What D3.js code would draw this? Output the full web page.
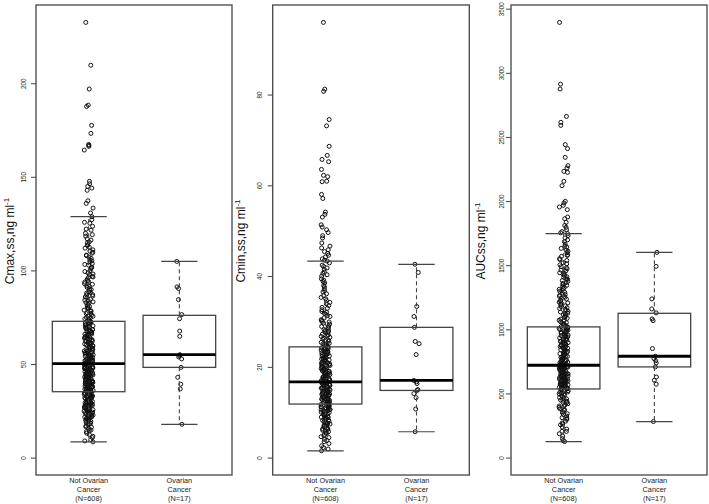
<!DOCTYPE html>
<html>
<head>
<meta charset="utf-8">
<script src="https://cdn.jsdelivr.net/npm/d3@7"></script>
<style>
  body { margin: 0; background: #fff; }
  svg { display: block; font-family: "Liberation Sans", Arial, sans-serif; }
</style>
</head>
<body>
<svg width="709" height="504"></svg>
<script>
// group labels under each panel
const groupLabels = [["Not Ovarian", "Cancer", "(N=608)"], ["Ovarian", "Cancer", "(N=17)"]];

// tick values per panel
const cmaxTicks = [0, 50, 100, 150, 200];
const cminTicks = [0, 20, 40, 60, 80];
const aucTicks = [0, 500, 1000, 1500, 2000, 2500, 3000, 3500];

// box stats: [lower whisker, Q1, median, Q3, upper whisker]
const cmaxBox = [[8.4, 35.2, 50.2, 72.8, 128.7], [17.8, 48.2, 55.0, 76.0, 104.8]];
const cminBox = [[1.5, 11.8, 16.7, 24.4, 43.3], [5.7, 14.8, 17.0, 28.7, 42.6]];
const aucBox = [[125, 535, 720, 1019, 1746], [281, 707, 790, 1125, 1600]];

// individual points
const cmaxNot = [232.5, 209.6, 196.9, 188.3, 187.6, 177.5, 173.2, 167.3, 166.8, 166.3, 164.3, 147.6, 146.3, 144.9, 144.0, 142.8, 137.2, 135.8, 133.3, 130.7,
  128.7, 127.1, 125.7, 125.2, 123.6, 122.1, 121.5, 119.8, 119.1, 118.3, 116.9, 115.2, 114.8, 113.6, 112.4, 111.9, 110.3, 109.7, 108.2, 107.9, 106.4, 105.1, 104.6, 103.2, 102.8, 101.3, 100.9, 99.4, 98.7, 98.1, 96.8, 96.2, 95.3, 94.1, 93.8, 92.6, 91.7, 90.9, 90.2, 89.4, 88.6, 87.9, 87.1, 86.3, 85.8, 84.6, 84.1, 83.2, 82.5, 81.9, 80.7, 80.2, 79.6, 78.8, 78.1, 77.4, 76.9, 76.1, 75.5, 74.8, 74.2, 73.6, 73.1,
  72.8, 72.3, 71.6, 71.4, 70.7, 70.2, 69.9, 69.1, 68.8, 68.3, 67.7, 67.5, 66.8, 66.2, 66.0, 65.4, 64.9, 64.5, 63.8, 63.6, 63.0, 62.5, 62.2, 61.6, 61.3, 60.7, 60.4, 59.9, 59.4, 59.1, 58.6, 58.1, 57.8, 57.3, 57.0, 56.4, 56.1, 55.7, 55.2, 54.9, 54.5, 54.0, 53.8, 53.2, 52.9, 52.5, 52.1, 51.8, 51.3, 51.1, 50.6, 50.3,
  50.1, 49.8, 49.5, 49.3, 48.9, 48.6, 48.4, 48.0, 47.8, 47.5, 47.1, 46.9, 46.6, 46.2, 46.0, 45.6, 45.4, 45.1, 44.8, 44.5, 44.2, 43.9, 43.7, 43.3, 43.0, 42.8, 42.4, 42.1, 41.9, 41.5, 41.2, 41.0, 40.6, 40.4, 40.1, 39.7, 39.5, 39.2, 38.8, 38.6, 38.3, 37.9, 37.7, 37.4, 37.0, 36.8, 36.5, 36.1, 35.9, 35.6, 35.3,
  35.0, 34.7, 34.4, 34.2, 33.8, 33.5, 33.3, 32.9, 32.6, 32.3, 31.9, 31.7, 31.3, 31.0, 30.6, 30.4, 30.0, 29.6, 29.3, 29.0, 28.6, 28.2, 27.9, 27.5, 27.2, 26.8, 26.5, 26.1, 25.8, 25.4, 25.0, 24.6, 24.3, 23.9, 23.5, 23.0, 22.7, 22.2, 21.8, 21.3, 20.9, 20.4, 19.9, 19.3, 18.8, 18.1, 17.6, 16.9, 16.2, 15.4, 14.7, 13.9, 13.1, 12.2, 11.4, 10.7, 9.6, 8.9, 8.4,
  14.3, 16.5, 18.4, 19.6, 20.1, 21.0, 21.6, 22.4, 23.2, 23.7, 24.1, 24.8, 25.2, 25.6, 26.3, 26.9, 27.4, 27.7, 28.0, 28.4, 28.9, 29.4, 29.8, 30.2, 30.8, 31.1, 31.5, 32.0, 32.4, 32.8, 33.1, 33.6, 34.0, 34.5, 34.9, 35.4, 35.8, 36.3, 36.6, 37.2, 37.5, 38.0, 38.5, 38.9, 39.4, 39.9, 40.3, 40.8, 41.3, 41.7,
  42.2, 42.6, 43.1, 43.5, 44.0, 44.4, 44.9, 45.3, 45.8, 46.4, 46.7, 47.3, 47.6, 48.2, 48.7, 49.1, 49.6, 50.0, 50.5, 51.0, 51.5, 52.0, 52.6, 53.0, 53.5, 54.2, 54.7, 55.4, 55.9, 56.6, 57.1, 57.7, 58.4, 58.9, 59.6, 60.2, 60.9, 61.5, 62.0, 62.8, 63.3, 64.1, 64.7, 65.2, 65.9, 66.5, 67.2, 67.8, 68.5, 69.3,
  69.7, 70.4, 71.0, 71.8, 72.5, 73.4, 74.5, 75.8, 77.1, 78.4, 79.9, 81.1, 82.8, 84.0, 85.5, 86.9, 88.2, 89.8, 91.4, 92.9, 94.6, 96.5, 97.7, 99.9, 101.8, 103.7, 105.6, 107.1, 109.2, 111.0, 113.4, 116.2];
const cmaxOv = [104.8, 91.2, 90.3, 84.4, 76.4, 74.2, 67.6, 64.8, 55.0, 54.4, 53.8, 52.7, 48.2, 42.9, 39.2, 36.7, 17.8];

const cminNot = [95.9, 81.2, 80.7, 74.5, 73.1, 68.6, 66.6, 65.7, 65.2, 63.5, 62.2, 61.9, 60.9, 60.8, 58.0, 57.1, 54.1, 53.6, 53.0, 51.3, 50.8, 50.2, 49.6, 48.9, 48.4, 47.3, 46.6, 46.2, 45.8, 45.4, 45.0, 44.6, 44.2, 43.8, 43.5,
  43.3, 42.9, 42.4, 41.8, 41.5, 40.9, 40.3, 40.0, 39.4, 38.8, 38.5, 37.9, 37.2, 36.8, 36.1, 35.7, 35.0, 34.6, 33.9, 33.5, 32.9, 32.6, 32.0, 31.6, 31.1, 30.8, 30.2, 29.9, 29.4, 29.0, 28.7, 28.2, 27.9, 27.5, 27.0, 26.7, 26.3, 25.9, 25.6, 25.2, 24.9, 24.6,
  24.3, 24.1, 23.9, 23.7, 23.4, 23.3, 23.0, 22.8, 22.6, 22.4, 22.1, 22.0, 21.7, 21.5, 21.4, 21.1, 20.9, 20.8, 20.5, 20.3, 20.2, 19.9, 19.7, 19.6, 19.3, 19.1, 19.0, 18.7, 18.5, 18.4, 18.1, 17.9, 17.8, 17.5, 17.3, 17.2, 16.9, 16.8,
  16.6, 16.5, 16.3, 16.1, 16.0, 15.8, 15.6, 15.5, 15.3, 15.1, 15.0, 14.8, 14.6, 14.5, 14.3, 14.1, 14.0, 13.8, 13.6, 13.5, 13.3, 13.1, 13.0, 12.8, 12.6, 12.5, 12.3, 12.1, 12.0, 11.8,
  11.6, 11.4, 11.2, 11.0, 10.8, 10.6, 10.4, 10.2, 10.0, 9.8, 9.6, 9.4, 9.1, 8.9, 8.7, 8.4, 8.2, 7.9, 7.7, 7.4, 7.1, 6.9, 6.6, 6.3, 6.0, 5.7, 5.4, 5.1, 4.8, 4.4, 4.0, 3.5, 3.1, 2.6, 2.2, 1.9, 1.5,
  3.8, 4.6, 5.3, 5.9, 6.4, 6.8, 7.2, 7.6, 8.0, 8.3, 8.6, 8.9, 9.2, 9.5, 9.7, 9.9, 10.1, 10.3, 10.5, 10.7, 10.9, 11.1, 11.3, 11.5, 11.7, 11.9, 12.2, 12.4, 12.7, 12.9, 13.2, 13.4, 13.7, 13.9, 14.2, 14.4, 14.7, 14.9, 15.2, 15.4,
  15.7, 15.9, 16.2, 16.4, 16.7, 17.0, 17.4, 17.6, 18.0, 18.3, 18.6, 18.9, 19.2, 19.5, 19.8, 20.1, 20.4, 20.7, 21.0, 21.3, 21.6, 21.9, 22.3, 22.7, 23.1, 23.5, 23.8, 24.2, 24.5, 24.8, 25.4, 25.8, 26.1, 26.5, 27.2, 27.7, 28.4, 28.9, 29.6, 30.4,
  31.3, 32.2, 33.1, 34.2, 35.3, 36.5, 37.6, 39.1, 40.6, 42.1, 6.2, 7.5, 8.8, 9.3, 10.6, 11.2, 12.0, 12.6, 13.3, 14.1, 14.6, 15.3, 16.0, 16.5, 17.7, 18.8, 19.4, 20.6, 21.8, 22.9, 24.0, 25.1, 26.9, 28.0, 30.0, 31.8];
const cminOv = [42.6, 40.8, 33.3, 31.1, 28.7, 25.6, 25.1, 22.7, 17.0, 16.7, 16.3, 15.0, 14.8, 14.1, 13.2, 10.7, 5.7];

const aucNot = [3393, 2912, 2874, 2660, 2614, 2590, 2440, 2409, 2341, 2276, 2258, 2232, 2224, 2154, 2120, 1998, 1985, 1967, 1954, 1933, 1876, 1862, 1834, 1810, 1795, 1777, 1762, 1752,
  1746, 1731, 1712, 1698, 1684, 1663, 1648, 1631, 1617, 1598, 1582, 1569, 1551, 1537, 1519, 1503, 1488, 1472, 1456, 1441, 1427, 1410, 1394, 1381, 1363, 1348, 1334, 1317, 1302, 1288, 1271, 1257, 1243, 1226, 1212, 1198, 1183, 1169, 1154, 1140, 1126, 1113, 1098, 1086, 1071, 1059, 1046, 1032, 1021,
  1012, 1003, 994, 986, 977, 969, 958, 951, 942, 933, 925, 916, 908, 899, 891, 882, 874, 865, 857, 848, 840, 831, 823, 815, 806, 798, 789, 781, 772, 764, 756, 748, 740, 733, 726, 721,
  718, 713, 708, 702, 697, 692, 686, 681, 676, 670, 665, 660, 654, 649, 644, 638, 633, 628, 622, 617, 612, 606, 601, 596, 590, 585, 580, 574, 569, 564, 558, 553, 548, 543, 539, 535,
  530, 521, 512, 503, 494, 485, 476, 467, 458, 448, 439, 430, 420, 411, 401, 391, 381, 370, 359, 348, 336, 324, 311, 298, 284, 270, 255, 239, 222, 204, 186, 167, 148, 131, 125,
  205, 262, 305, 342, 373, 402, 428, 447, 463, 481, 497, 509, 517, 526, 532, 541, 546, 551, 556, 562, 567, 572, 578, 583, 588, 593, 598, 604, 609, 614, 619, 625, 630, 636, 641, 646, 652, 657, 662, 668,
  673, 679, 684, 689, 695, 700, 705, 711, 716, 723, 729, 736, 744, 751, 759, 767, 776, 784, 793, 802, 811, 819, 828, 836, 845, 853, 862, 870, 879, 888, 896, 904, 913, 921, 930, 939, 947, 955, 964, 973,
  981, 990, 999, 1008, 1016, 1028, 1040, 1053, 1066, 1080, 1093, 1107, 1121, 1135, 1148, 1162, 1177, 1191, 1206, 1221, 1236, 1250, 1266, 1281, 1297, 1312, 1327, 1343, 1358, 1374, 1390, 1405, 1423, 1438, 1462, 1480, 1511, 1544, 1576, 1609, 1641];
const aucOv = [1600, 1491, 1237, 1159, 1128, 1081, 1068, 850, 790, 772, 755, 738, 707, 628, 603, 572, 281];

const svg = d3.select("svg");
const plotTop = 5, plotBottom = 475;

const panels = [
  { title: "Cmax,ss,ng ml", groups: [cmaxNot, cmaxOv], box: cmaxBox, ticks: cmaxTicks, left: 36, right: 232, titleX: 13.5, tickOff: 10.5 },
  { title: "Cmin,ss,ng ml", groups: [cminNot, cminOv], box: cminBox, ticks: cminTicks, left: 272.7, right: 469.3, titleX: 245, tickOff: 10.5 },
  { title: "AUCss,ng ml", groups: [aucNot, aucOv], box: aucBox, ticks: aucTicks, left: 511, right: 707, titleX: 485, tickOff: 7.5 }
];

// deterministic jitter in [0,1)
function jit(i, k) {
  const s = Math.sin(i * 12.9898 + k * 78.233) * 43758.5453;
  return s - Math.floor(s);
}

panels.forEach((p, pi) => {
  const g = svg.append("g");
  const maxV = d3.max(p.groups.flat());
  const y = d3.scaleLinear().domain([-0.04 * maxV, 1.04 * maxV]).range([plotBottom, plotTop]);
  const x = d3.scaleLinear().domain([0.42, 2.58]).range([p.left, p.right]);

  // frame
  g.append("rect")
    .attr("x", p.left).attr("y", plotTop)
    .attr("width", p.right - p.left).attr("height", plotBottom - plotTop)
    .attr("fill", "none").attr("stroke", "#444").attr("stroke-width", 1.3);

  // y axis, R style rotated labels
  const yAxis = d3.axisLeft(y).tickValues(p.ticks).tickFormat(d3.format("d")).tickSize(5).tickSizeOuter(0);
  const gy = g.append("g").attr("transform", `translate(${p.left},0)`).call(yAxis);
  gy.select(".domain").remove();
  gy.selectAll("line").attr("stroke", "#444");
  gy.selectAll("text")
    .attr("transform", "rotate(-90)")
    .attr("x", 0).attr("y", -p.tickOff).attr("dy", 0)
    .attr("text-anchor", "middle")
    .attr("fill", "#222")
    .style("font-size", "6.3px")
    .style("font-family", "'Liberation Sans', Arial, sans-serif");

  // axis title
  const t = g.append("text")
    .attr("transform", `translate(${p.titleX},241) rotate(-90)`)
    .attr("text-anchor", "middle")
    .attr("fill", "#111")
    .style("font-size", "12px")
    .text(p.title);
  t.append("tspan").attr("dy", -5).style("font-size", "8px").text("-1");

  // jittered points
  p.groups.forEach((vals, gi) => {
    const amt = gi === 0 ? 0.05 : 0.03;
    g.append("g").selectAll("circle")
      .data(vals)
      .join("circle")
      .attr("cx", (d, i) => x(gi + 1 + (jit(i, pi * 2 + gi + 1) - 0.5) * 2 * amt))
      .attr("cy", d => y(d))
      .attr("r", 2)
      .attr("fill", "none")
      .attr("stroke", "#111")
      .attr("stroke-width", 1);
  });

  // boxes
  p.box.forEach((b, gi) => {
    const c = gi + 1;
    const bg = g.append("g").attr("stroke", "#444").attr("fill", "none");
    bg.append("line").attr("x1", x(c)).attr("x2", x(c)).attr("y1", y(b[3])).attr("y2", y(b[4]))
      .attr("stroke-dasharray", "4,3").attr("stroke-width", 1.1);
    bg.append("line").attr("x1", x(c)).attr("x2", x(c)).attr("y1", y(b[1])).attr("y2", y(b[0]))
      .attr("stroke-dasharray", "4,3").attr("stroke-width", 1.1);
    [b[0], b[4]].forEach(v => {
      bg.append("line").attr("x1", x(c - 0.2)).attr("x2", x(c + 0.2)).attr("y1", y(v)).attr("y2", y(v))
        .attr("stroke-width", 1.2);
    });
    bg.append("rect").attr("x", x(c - 0.4)).attr("width", x(c + 0.4) - x(c - 0.4))
      .attr("y", y(b[3])).attr("height", y(b[1]) - y(b[3]))
      .attr("stroke-width", 1.3);
    bg.append("line").attr("x1", x(c - 0.4)).attr("x2", x(c + 0.4)).attr("y1", y(b[2])).attr("y2", y(b[2]))
      .attr("stroke", "#000").attr("stroke-width", 2.8);

    // group label
    const lab = g.append("text").attr("text-anchor", "middle").attr("fill", "#222").style("font-size", "7.3px");
    groupLabels[gi].forEach((s, li) => {
      lab.append("tspan").attr("x", x(c)).attr("y", 483 + li * 9).text(s);
    });
  });
});
</script>
</body>
</html>
